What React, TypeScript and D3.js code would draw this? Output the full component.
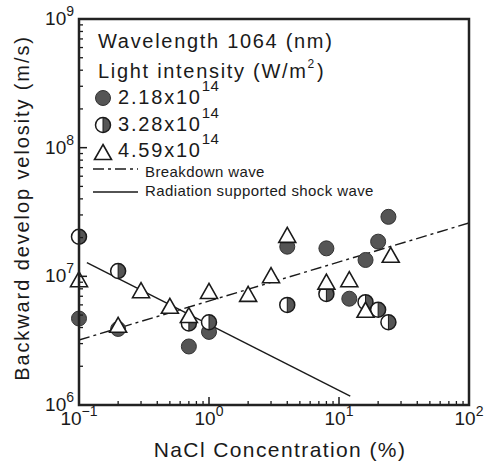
import React from 'react';
import * as d3 from 'd3';

// NaCl concentration (%) and velocity (m/s) for each light intensity
const filledX = [0.1, 0.2, 0.7, 1.0, 4, 8, 12, 16, 20, 24];
const filledY = [4.7e6, 3.9e6, 2.85e6, 3.7e6, 1.7e7, 1.65e7, 6.7e6, 1.34e7, 1.86e7, 2.9e7];

const halfX = [0.1, 0.2, 0.7, 1.0, 4, 8, 16, 20, 24];
const halfY = [2.03e7, 1.1e7, 4.3e6, 4.4e6, 6.0e6, 7.3e6, 6.3e6, 5.5e6, 4.4e6];

const triX = [0.1, 0.2, 0.3, 0.5, 0.7, 1.0, 2, 3, 4, 8, 12, 16, 25];
const triY = [9.5e6, 4.2e6, 7.8e6, 5.9e6, 5.0e6, 7.7e6, 7.3e6, 1.02e7, 2.1e7, 9.1e6, 9.5e6, 5.5e6, 1.47e7];

// fitted lines
const breakdownX = [0.1, 100];
const breakdownY = [3.2e6, 2.6e7];
const shockX = [0.115, 12.2];
const shockY = [1.28e7, 1.17e6];

const xTickExp = [-1, 0, 1, 2];
const yTickExp = [6, 7, 8, 9];

const legendLabels = ['2.18x10', '3.28x10', '4.59x10'];

const W = 495;
const H = 468;
const margin = { left: 79, right: 26, top: 19, bottom: 63 };
const FONT = "'Liberation Sans', Arial, Helvetica, sans-serif";
const DARK = '#555';
const INK = '#1a1a1a';

const x = d3.scaleLog().domain([0.1, 100]).range([margin.left, W - margin.right]);
const y = d3.scaleLog().domain([1e6, 1e9]).range([H - margin.bottom, margin.top]);

const R = 7.5;

function Filled({ cx, cy }: { cx: number; cy: number }) {
  return <circle cx={cx} cy={cy} r={R} fill={DARK} stroke="#333" strokeWidth={1} />;
}

function Half({ cx, cy }: { cx: number; cy: number }) {
  const right = `M${cx},${cy - R} A${R},${R} 0 0 1 ${cx},${cy + R} Z`;
  return (
    <g>
      <circle cx={cx} cy={cy} r={R} fill="#fff" />
      <path d={right} fill={DARK} />
      <circle cx={cx} cy={cy} r={R} fill="none" stroke={INK} strokeWidth={1.5} />
      <line x1={cx} x2={cx} y1={cy - R} y2={cy + R} stroke={INK} strokeWidth={1} />
    </g>
  );
}

function Tri({ cx, cy }: { cx: number; cy: number }) {
  const hw = 8.5;
  const hh = 7.5;
  const d = `M${cx},${cy - hh} L${cx + hw},${cy + hh} L${cx - hw},${cy + hh} Z`;
  return <path d={d} fill="#fff" stroke={INK} strokeWidth={1.6} strokeLinejoin="miter" />;
}

export default function App() {
  const x0 = margin.left;
  const x1 = W - margin.right;
  const y0 = H - margin.bottom;
  const y1 = margin.top;

  const xMinor: number[] = [];
  for (let e = -1; e < 2; e++) for (let k = 2; k <= 9; k++) xMinor.push(k * Math.pow(10, e));
  const yMinor: number[] = [];
  for (let e = 6; e < 9; e++) for (let k = 2; k <= 9; k++) yMinor.push(k * Math.pow(10, e));

  const line = d3
    .line<[number, number]>()
    .x(d => x(d[0]))
    .y(d => y(d[1]));

  const breakdownPts = breakdownX.map((v, i) => [v, breakdownY[i]] as [number, number]);
  const shockPts = shockX.map((v, i) => [v, shockY[i]] as [number, number]);

  return (
    <svg
      width={W}
      height={H}
      style={{ position: 'absolute', left: 0, top: 0, background: '#fff' }}
      fontFamily={FONT}
    >
      <rect width={W} height={H} fill="#fff" />

      {/* fitted lines */}
      <path d={line(breakdownPts) || ''} fill="none" stroke={INK} strokeWidth={1.4} strokeDasharray="11,4,3,4" />
      <path d={line(shockPts) || ''} fill="none" stroke={INK} strokeWidth={1.4} />

      {/* markers */}
      {filledX.map((v, i) => (
        <Filled key={'f' + i} cx={x(v)} cy={y(filledY[i])} />
      ))}
      {halfX.map((v, i) => (
        <Half key={'h' + i} cx={x(v)} cy={y(halfY[i])} />
      ))}
      {triX.map((v, i) => (
        <Tri key={'t' + i} cx={x(v)} cy={y(triY[i])} />
      ))}

      {/* ticks */}
      {xMinor.map((v, i) => (
        <line key={'xm' + i} x1={x(v)} x2={x(v)} y1={y0} y2={y0 - 4} stroke={INK} strokeWidth={1.3} />
      ))}
      {xTickExp.map(e => (
        <line key={'xM' + e} x1={x(Math.pow(10, e))} x2={x(Math.pow(10, e))} y1={y0} y2={y0 - 8} stroke={INK} strokeWidth={1.5} />
      ))}
      {yMinor.map((v, i) => (
        <line key={'ym' + i} x1={x0} x2={x0 + 4} y1={y(v)} y2={y(v)} stroke={INK} strokeWidth={1.3} />
      ))}
      {yTickExp.map(e => (
        <line key={'yM' + e} x1={x0} x2={x0 + 8} y1={y(Math.pow(10, e))} y2={y(Math.pow(10, e))} stroke={INK} strokeWidth={1.5} />
      ))}

      {/* frame */}
      <rect x={x0} y={y1} width={x1 - x0} height={y0 - y1} fill="none" stroke="#222" strokeWidth={2.5} />

      {/* tick labels */}
      {xTickExp.map(e => (
        <text key={'xl' + e} x={x(Math.pow(10, e))} y={y0 + 20} textAnchor="middle" fontSize={19} fill={INK}>
          10
          <tspan fontSize={14} dy={-9}>{e < 0 ? '\u2212' + Math.abs(e) : e}</tspan>
        </text>
      ))}
      {yTickExp.map(e => (
        <text key={'yl' + e} x={x0 - 5} y={y(Math.pow(10, e)) + 6} textAnchor="end" fontSize={19} fill={INK}>
          10
          <tspan fontSize={14} dy={-9}>{e}</tspan>
        </text>
      ))}

      {/* axis titles */}
      <text x={280} y={457} textAnchor="middle" fontSize={21} letterSpacing={1.4} fill={INK}>
        NaCl Concentration (%)
      </text>
      <text
        transform={`translate(29, ${(y0 + y1) / 2 - 4}) rotate(-90)`}
        textAnchor="middle"
        fontSize={20}
        letterSpacing={1.9}
        fill={INK}
      >
        Backward develop velosity (m/s)
      </text>

      {/* legend */}
      <text x={98} y={48} fontSize={20} letterSpacing={1.7} fill={INK}>Wavelength 1064 (nm)</text>
      <text x={98} y={78} fontSize={20} letterSpacing={1.7} fill={INK}>
        Light intensity (W/m
        <tspan fontSize={12} dy={-10}>2</tspan>
        <tspan dy={10} dx={1}>)</tspan>
      </text>
      <Filled cx={103} cy={98} />
      <Half cx={103} cy={125} />
      <Tri cx={103} cy={152} />
      {legendLabels.map((s, i) => (
        <text key={'lg' + i} x={118} y={104 + i * 26.5} fontSize={20} letterSpacing={1.8} fill={INK}>
          {s}
          <tspan fontSize={15} dy={-13} letterSpacing={0.5}>14</tspan>
        </text>
      ))}
      <line x1={93} x2={138} y1={169} y2={169} stroke={INK} strokeWidth={1.4} strokeDasharray="11,4,3,4" />
      <text x={145} y={177} fontSize={15} letterSpacing={0.4} fill={INK}>Breakdown wave</text>
      <line x1={93} x2={138} y1={192} y2={192} stroke={INK} strokeWidth={1.4} />
      <text x={145} y={196} fontSize={15} letterSpacing={0.4} fill={INK}>Radiation supported shock wave</text>
    </svg>
  );
}
